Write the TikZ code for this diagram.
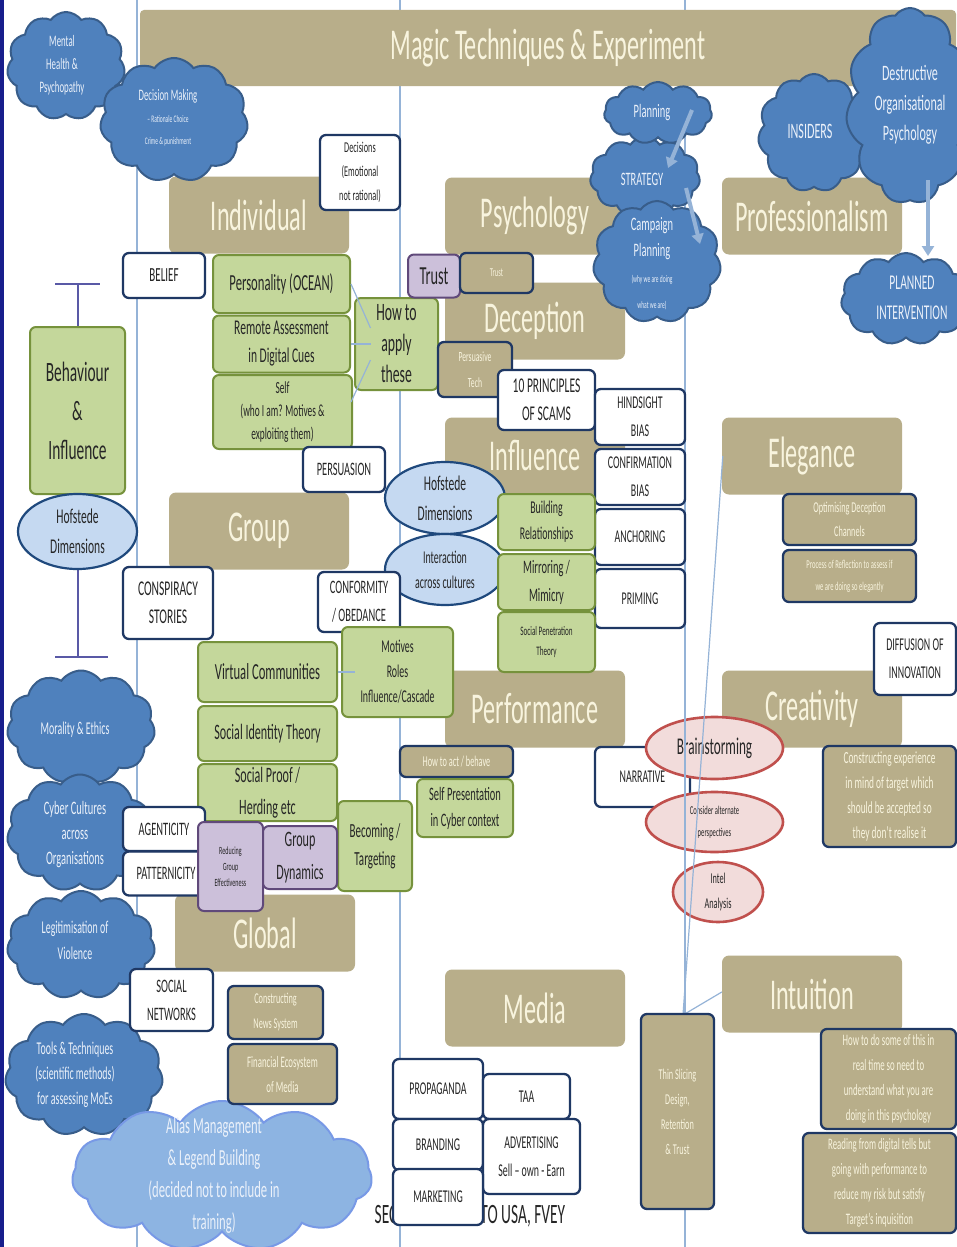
\documentclass[tikz,border=0pt]{standalone}
\usepackage{fontspec}
\setmainfont{Carlito}[FakeStretch=0.55]
\usetikzlibrary{shapes.geometric,shapes.symbols,arrows.meta,calc}
\definecolor{cTan}{RGB}{184,174,138}
\definecolor{cCream}{RGB}{248,244,222}
\definecolor{cNavy}{RGB}{31,56,100}
\definecolor{cGfill}{RGB}{196,215,155}
\definecolor{cGdraw}{RGB}{118,146,60}
\definecolor{cPfill}{RGB}{204,192,218}
\definecolor{cPdraw}{RGB}{96,73,122}
\definecolor{cBfill}{RGB}{197,217,241}
\definecolor{cBdraw}{RGB}{31,73,125}
\definecolor{cRfill}{RGB}{242,220,219}
\definecolor{cRdraw}{RGB}{192,80,77}
\definecolor{cCfill}{RGB}{79,129,189}
\definecolor{cCdraw}{RGB}{56,93,138}
\definecolor{cAfill}{RGB}{141,180,226}
\definecolor{cLine}{RGB}{149,179,215}
\definecolor{cFrame}{RGB}{24,30,140}
\definecolor{cInk}{RGB}{38,38,38}
\definecolor{cCtext}{RGB}{235,241,250}
\newcommand\fz[2]{\fontsize{#1}{#2}\selectfont}
\tikzset{
 hdr/.style={rounded corners=7pt, fill=cTan, text=cCream, font=\fz{44}{50}, inner sep=0pt, minimum width=180, minimum height=77},
 nbox/.style={rounded corners=6pt, fill=white, draw=cNavy, line width=2.3pt, text=cInk, align=center, inner sep=0pt},
 tbox/.style={rounded corners=6pt, fill=cTan, draw=cNavy, line width=2.3pt, text=cCream, align=center, inner sep=0pt},
 gbox/.style={rounded corners=6pt, fill=cGfill, draw=cGdraw, line width=2pt, text=cInk, align=center, inner sep=0pt},
 pbox/.style={rounded corners=6pt, fill=cPfill, draw=cPdraw, line width=2pt, text=cInk, align=center, inner sep=0pt},
 bell/.style={ellipse, fill=cBfill, draw=cBdraw, line width=2.2pt, text=cInk, align=center, inner sep=0pt},
 rell/.style={ellipse, fill=cRfill, draw=cRdraw, line width=2.6pt, text=cInk, align=center, inner sep=0pt},
 cld/.style={cloud, cloud puffs=11, cloud puff arc=110, cloud ignores aspect, fill=cCfill, draw=cCdraw, line width=2pt, inner sep=0pt},
 ctxt/.style={text=cCtext, align=center, inner sep=0pt},
 vline/.style={draw=cLine, line width=1.2pt},
 tbar/.style={draw=gray!70!blue, line width=1.3pt},
 fat/.style={draw=cLine, line width=4pt, -{Triangle[length=10pt,width=12pt]}},
}
\begin{document}
\begin{tikzpicture}[x=1pt,y=-1pt]
\useasboundingbox (0,0) rectangle (956,1247);
\fill[white] (0,0) rectangle (956,1247);
\fill[cFrame] (0,0) rectangle (4,1247);
% guide lines
\draw[vline] (137,0) -- (137,1247);
\draw[vline] (400,0) -- (400,1247);
\draw[vline] (685,0) -- (685,1247);
\coordinate (tjoin) at (683,1015);

% banner and headers
\node[hdr, minimum width=816, minimum height=76, rounded corners=4pt] (banner) at (548,48) {Magic Techniques \& Experiment};
\node[hdr] (indiv) at (259,215) {Individual};
\node[hdr] (psych) at (535,216) {Psychology};
\node[hdr] (prof) at (812,216) {Professionalism};
\node[hdr] (decep) at (535,321) {Deception};
\node[hdr] (infl) at (535,456) {Influence};
\node[hdr] (eleg) at (812,456) {Elegance};
\node[hdr] (group) at (259,531) {Group};
\node[hdr] (perf) at (535,709) {Performance};
\node[hdr] (creat) at (812,709) {Creativity};
\node[hdr] (global) at (265,933) {Global};
\node[hdr] (media) at (535,1008) {Media};
\node[hdr] (intu) at (812,994) {Intuition};

% clouds
\node[cld, minimum width=118, minimum height=108] (mh) at (66,66) {};
\node[ctxt, font=\fz{16}{23}] (mht) at (62,65) {Mental\\Health \&\\Psychopathy};
\node[cld, minimum width=148, minimum height=124] (dm) at (174,120) {};
\node[ctxt, font=\fz{16}{22}] (dmt) at (168,118) {Decision Making\\{\fz{10}{14}\textendash\ Rationale Choice}\\{\fz{10}{14}Crime \& punishment}};
\node[cld, minimum width=110, minimum height=80] (strat) at (645,177) {};
\node[cld, minimum width=108, minimum height=62] (plan) at (658,113) {};
\node[cld, minimum width=128, minimum height=122] (camp) at (657,262) {};
\node[ctxt, font=\fz{19}{25}] (plant) at (652,113) {Planning};
\node[ctxt, font=\fz{19}{25}] (stratt) at (642,179) {STRATEGY};
\node[ctxt, font=\fz{19}{26}] (campt) at (652,264) {Campaign\\Planning\\{\fz{10}{14}(why we are doing}\\{\fz{10}{14}what we are)}};
\coordinate (a1s) at (692,110); \coordinate (a1e) at (668,168);
\coordinate (a2s) at (686,188); \coordinate (a2e) at (700,244);
\draw[fat] (a1s) -- (a1e);
\draw[fat] (a2s) -- (a2e);
\node[cld, minimum width=112, minimum height=118] (ins) at (814,133) {};
\node[ctxt, font=\fz{22}{28}] (inst) at (810,131) {INSIDERS};
\node[cld, minimum width=128, minimum height=196] (dest) at (910,106) {};
\node[ctxt, font=\fz{22}{30}] (destt) at (910,105) {Destructive\\Organisational\\Psychology};
\node[cld, minimum width=130, minimum height=92] (planned) at (906,299) {};
\node[ctxt, font=\fz{21}{30}] (plannedt) at (912,298) {PLANNED\\INTERVENTION};
\coordinate (a3s) at (928,180); \coordinate (a3e) at (928,256);
\draw[fat] (a3s) -- (a3e);
\node[cld, minimum width=148, minimum height=113] (mor) at (81,727) {};
\node[ctxt, font=\fz{18}{25}] (mort) at (75,730) {Morality \& Ethics};
\node[cld, minimum width=146, minimum height=117] (cyb) at (80,833) {};
\node[ctxt, font=\fz{19}{25}] (cybt) at (75,835) {Cyber Cultures\\across\\Organisations};
\node[cld, minimum width=148, minimum height=108] (leg) at (81,945) {};
\node[ctxt, font=\fz{18}{26}] (legt) at (75,940) {Legitimisation of\\Violence};
\node[cld, minimum width=158, minimum height=122] (tools) at (84,1075) {};
\node[ctxt, font=\fz{18}{25}] (toolst) at (75,1075) {Tools \& Techniques\\(scientific methods)\\for assessing MoEs};
\node[cld, fill=cAfill, draw=cAfill!85!blue, minimum width=300, minimum height=150] (alias) at (222,1176) {};
\node[ctxt, font=\fz{23}{32}] (aliast) at (214,1175) {Alias Management\\\& Legend Building\\(decided not to include in\\training)};

% T-bar
\draw[tbar] (55,284) -- (100,284);
\draw[tbar] (78,284) -- (78,330);
\draw[tbar] (78,565) -- (78,657);
\draw[tbar] (55,657) -- (108,657);

% left column
\node[gbox, minimum width=95, minimum height=167, font=\fz{28}{39}] (bi) at (77.5,410.5) {Behaviour\\\&\\Influence};
\node[bell, minimum width=119, minimum height=75, font=\fz{21}{30}] (hofL) at (77.5,531.5) {Hofstede\\Dimensions};

% individual area
\node[nbox, minimum width=80, minimum height=75, font=\fz{15}{24}] (dec) at (360,172.5) {Decisions\\(Emotional\\not rational)};
\node[nbox, minimum width=82, minimum height=45, font=\fz{20}{24}] (belief) at (164,275.5) {BELIEF};
\node[gbox, minimum width=137, minimum height=58, font=\fz{23}{28}] (pers) at (281.5,284) {Personality (OCEAN)};
\node[gbox, minimum width=137, minimum height=57, font=\fz{21}{28}] (remote) at (281.5,344) {Remote Assessment\\in Digital Cues};
\node[gbox, minimum width=139, minimum height=74, font=\fz{17}{23}] (self) at (282.5,412) {Self\\(who I am? Motives \&\\exploiting them)};
\node[gbox, minimum width=83, minimum height=92, font=\fz{25}{31}] (how) at (396.5,344) {How to\\apply\\these};
\draw[vline] (pers.east) -- ($(how.center)+(-26,-16)$);
\draw[vline] (remote.east) -- ($(how.center)+(-26,0)$);
\draw[vline] ($(self.east)+(-2,-10)$) -- ($(how.center)+(-26,16)$);
\node[pbox, minimum width=52, minimum height=43, font=\fz{26}{30}] (trustp) at (434,276) {Trust};
\node[tbox, minimum width=73, minimum height=40, font=\fz{12}{16}] (trustt) at (496.5,273) {Trust};
\node[tbox, minimum width=74, minimum height=55, font=\fz{14}{26}] (ptech) at (475,369.5) {Persuasive\\Tech};
\node[nbox, minimum width=82, minimum height=45, font=\fz{19}{24}] (persu) at (344,469.5) {PERSUASION};

% influence area
\node[nbox, minimum width=97, minimum height=60, font=\fz{21}{28}] (scams) at (546.5,400) {10 PRINCIPLES\\OF SCAMS};
\node[nbox, minimum width=90, minimum height=56, font=\fz{18}{28}] (hind) at (640,417) {HINDSIGHT\\BIAS};
\node[nbox, minimum width=90, minimum height=56, font=\fz{18}{28}] (conf) at (640,477) {CONFIRMATION\\BIAS};
\node[nbox, minimum width=90, minimum height=56, font=\fz{18}{24}] (anch) at (640,537) {ANCHORING};
\node[nbox, minimum width=90, minimum height=59, font=\fz{18}{24}] (prim) at (640,598.5) {PRIMING};
\node[bell, minimum width=120, minimum height=72, font=\fz{21}{30}] (hofC) at (445,498) {Hofstede\\Dimensions};
\node[bell, minimum width=120, minimum height=71, font=\fz{18}{25}] (inter) at (445,569.5) {Interaction\\across cultures};
\node[gbox, minimum width=97, minimum height=56, font=\fz{18}{26}] (build) at (546.5,522) {Building\\Relationships};
\node[gbox, minimum width=97, minimum height=56, font=\fz{19}{28}] (mirror) at (546.5,582) {Mirroring /\\Mimicry};
\node[gbox, minimum width=97, minimum height=60, font=\fz{13}{20}] (spt) at (546.5,642) {Social Penetration\\Theory};

% elegance
\node[tbox, minimum width=133, minimum height=51, font=\fz{15}{24}] (odc) at (849.5,519.5) {Optimising Deception\\Channels};
\node[tbox, minimum width=133, minimum height=52, font=\fz{12}{22}] (por) at (849.5,576) {Process of Reflection to assess if\\we are doing so elegantly};

% group area
\node[nbox, minimum width=90, minimum height=72, font=\fz{21}{28}] (consp) at (168,603) {CONSPIRACY\\STORIES};
\node[nbox, minimum width=82, minimum height=60, font=\fz{19}{28}] (confo) at (359,602) {CONFORMITY\\/ OBEDANCE};
\node[gbox, minimum width=139, minimum height=60, font=\fz{23}{28}] (vc) at (267.5,672) {Virtual Communities};
\node[gbox, minimum width=139, minimum height=55, font=\fz{22}{28}] (sit) at (267.5,733.5) {Social Identity Theory};
\node[gbox, minimum width=139, minimum height=57, font=\fz{22}{32}] (sp) at (267.5,792.5) {Social Proof /\\Herding etc};
\node[gbox, minimum width=111, minimum height=90, font=\fz{18}{25}] (mot) at (397.5,672) {Motives\\Roles\\Influence/Cascade};
\draw[vline] (vc.east) -- ($(mot.west)+(14,0)$);
\node[gbox, minimum width=74, minimum height=90, font=\fz{20}{28}] (becom) at (375,846) {Becoming /\\Targeting};
\node[nbox, minimum width=86, minimum height=44, font=\fz{19}{24}] (patt) at (166,873.5) {PATTERNICITY};
\node[nbox, minimum width=82, minimum height=44, font=\fz{19}{24}] (agent) at (164,829) {AGENTICITY};
\node[pbox, minimum width=65, minimum height=89, font=\fz{11}{16}] (rge) at (230.5,866.5) {Reducing\\Group\\Effectiveness};
\node[pbox, minimum width=74, minimum height=63, font=\fz{22}{33}] (gd) at (300,857.5) {Group\\Dynamics};

% performance
\node[tbox, minimum width=113, minimum height=31, font=\fz{15}{20}] (hab) at (456.5,761.5) {How to act / behave};
\node[gbox, minimum width=96, minimum height=58, font=\fz{19}{26}] (selfp) at (465,808) {Self Presentation\\in Cyber context};
\node[nbox, minimum width=95, minimum height=60, font=\fz{18}{24}] (narr) at (642.5,777) {NARRATIVE};
\node[nbox, minimum width=82, minimum height=72, font=\fz{18}{28}] (diff) at (915,659) {DIFFUSION OF\\INNOVATION};

% creativity
\node[rell, minimum width=137, minimum height=62, font=\fz{24}{28}] (brain) at (714.5,748) {Brainstorming};
\node[rell, minimum width=137, minimum height=60, font=\fz{12}{22}] (consid) at (714.5,822) {Consider alternate\\perspectives};
\node[rell, minimum width=90, minimum height=60, font=\fz{15}{25}] (intel) at (718,892) {Intel\\Analysis};
\node[tbox, minimum width=133, minimum height=101, font=\fz{17}{25}] (cexp) at (889.5,796.5) {Constructing experience\\in mind of target which\\should be accepted so\\they don't realise it};

% connectors over ellipses
\draw[vline] (685,712) -- (685,930);
\draw[vline] ($(eleg.west)+(1,0)$) -- (tjoin);

% global
\node[nbox, minimum width=83, minimum height=62, font=\fz{19}{28}] (socnet) at (171.5,1000) {SOCIAL\\NETWORKS};
\node[tbox, minimum width=95, minimum height=53, font=\fz{15}{25}] (cns) at (275.5,1012.5) {Constructing\\News System};
\node[tbox, minimum width=109, minimum height=60, font=\fz{16}{25}] (fem) at (282.5,1074) {Financial Ecosystem\\of Media};

% media
\node[font=\fz{28}{30}, text=cInk, inner sep=0pt] (secret) at (470,1216) {SECRET//SI//REL TO USA, FVEY};
\node[nbox, minimum width=90, minimum height=60, font=\fz{18}{24}] (prop) at (438,1089) {PROPAGANDA};
\node[nbox, minimum width=87, minimum height=45, font=\fz{18}{24}] (taa) at (526.5,1096.5) {TAA};
\node[nbox, minimum width=90, minimum height=51, font=\fz{18}{24}] (brand) at (438,1144.5) {BRANDING};
\node[nbox, minimum width=97, minimum height=75, font=\fz{18}{28}] (adv) at (531.5,1156.5) {ADVERTISING\\Sell \textendash\ own - Earn};
\node[nbox, minimum width=90, minimum height=56, font=\fz{18}{24}] (mark) at (438,1197) {MARKETING};

% intuition
\draw[vline] ($(intu.west)+(0,-2)$) -- (tjoin);
\node[tbox, minimum width=73, minimum height=195, font=\fz{15}{25}] (thin) at (677.5,1111.5) {Thin Slicing\\Design,\\Retention\\\& Trust};
\node[tbox, minimum width=135, minimum height=100, font=\fz{16}{25}] (htd) at (888.5,1079) {How to do some of this in\\real time so need to\\understand what you are\\doing in this psychology};
\node[tbox, minimum width=153, minimum height=100, font=\fz{16}{25}] (rfd) at (879.5,1183) {Reading from digital tells but\\going with performance to\\reduce my risk but satisfy\\Target's inquisition};
\end{tikzpicture}
\end{document}
